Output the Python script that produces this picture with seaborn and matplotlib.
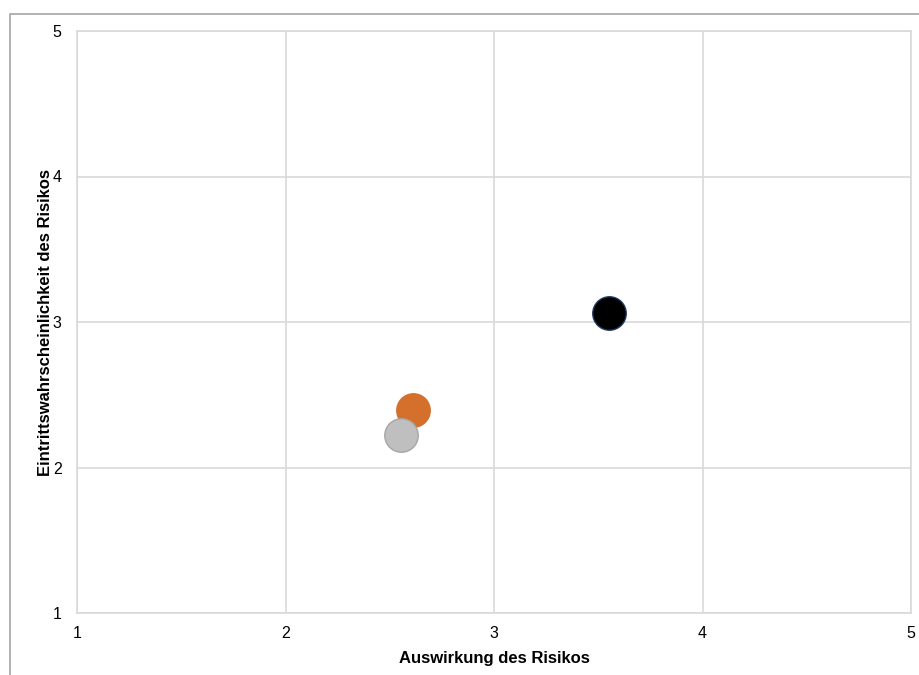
import matplotlib
matplotlib.use("Agg")
import matplotlib.pyplot as plt
import seaborn as sns
import pandas as pd
from matplotlib.patches import Rectangle

risks = ["Risiko A", "Risiko B", "Risiko C"]
impact = [2.61, 2.555, 3.55]
probability = [2.395, 2.225, 3.06]
fill_colors = ["#d4702c", "#bfbfbf", "#000000"]
edge_colors = ["#d4702c", "#a6a6a6", "#1f3864"]

df = pd.DataFrame({"risk": risks, "impact": impact, "probability": probability})

sns.set_theme(style="white")
plt.rcParams["font.family"] = ["Liberation Sans", "DejaVu Sans"]
plt.rcParams["text.color"] = "black"
plt.rcParams["axes.labelcolor"] = "black"

fig = plt.figure(figsize=(9.19, 6.75), dpi=100)
ax = fig.add_axes([77 / 919, 1 - 613 / 675, (911 - 77) / 919, (613 - 31) / 675])

for i, r in enumerate(risks):
    sns.scatterplot(data=df[df["risk"] == r], x="impact", y="probability",
                    color=fill_colors[i], edgecolor=edge_colors[i], linewidth=1,
                    s=580, ax=ax, legend=False, zorder=3)

ax.set_xlim(1, 5)
ax.set_ylim(1, 5)
ax.set_xticks([1, 2, 3, 4, 5])
ax.set_yticks([1, 2, 3, 4, 5])
ax.grid(True, color="#d9d9d9", linewidth=1.2)
ax.set_axisbelow(True)
for sp in ax.spines.values():
    sp.set_color("#d9d9d9")
    sp.set_linewidth(1.2)
ax.tick_params(axis="both", length=0, labelsize=11.5, colors="#000000")
ax.tick_params(axis="x", pad=9)
ax.tick_params(axis="y", pad=11)
ax.set_xlabel("Auswirkung des Risikos", fontsize=12, fontweight="bold",
              labelpad=7.5, color="black")
ax.set_ylabel("Eintrittswahrscheinlichkeit des Risikos", fontsize=12, fontweight="bold",
              labelpad=0, color="black")

# outer chart border (partially visible)
fig.patches.append(Rectangle((9.5 / 919, -0.1), 1.2, 1.1 - 13.5 / 675,
                             transform=fig.transFigure, fill=False,
                             edgecolor="#a6a6a6", linewidth=1.2))

fig.savefig("out.png", dpi=100)
